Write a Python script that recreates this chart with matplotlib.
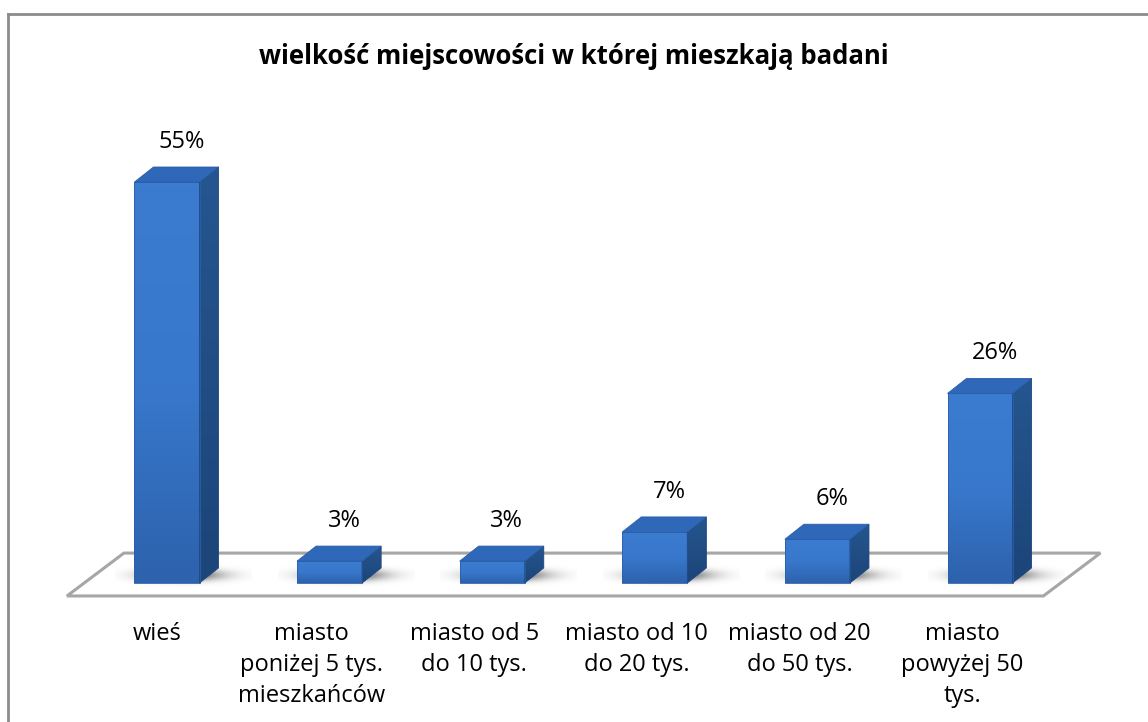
import numpy as np
import matplotlib.pyplot as plt
from matplotlib.patches import Polygon
from matplotlib.lines import Line2D
from matplotlib.colors import LinearSegmentedColormap

## 3D-looking column chart: size of place of residence ##

categories = ['wieś', 'miasto\nponiżej 5 tys.\nmieszkańców', 'miasto od 5\ndo 10 tys.',
              'miasto od 10\ndo 20 tys.', 'miasto od 20\ndo 50 tys.', 'miasto\npowyżej 50\ntys.']
values = [55, 3, 3, 7, 6, 26]
labels = ['55%', '3%', '3%', '7%', '6%', '26%']
title = 'wielkość miejscowości w której mieszkają badani'

plt.rcParams['font.family'] = ['Open Sans', 'DejaVu Sans']

fig = plt.figure(figsize=(11.48, 7.22), dpi=100)
ax = fig.add_axes([0, 0, 1, 1])
ax.set_xlim(-1.027, 6.033)
ax.set_ylim(-19.07, 79.97)
ax.axis('off')

half_w = 0.2     # half width of the front face
dx = 0.117       # depth offset in x
dy = 2.06        # depth offset in y

# floor
floor = Polygon([(-0.615, -1.78), (-0.265, 4.1), (5.74, 4.1), (5.39, -1.78)],
                closed=True, facecolor='white', edgecolor='#a6a6a6', lw=2.2, zorder=1)
ax.add_patch(floor)

front_cmap = LinearSegmentedColormap.from_list('front', ['#2d62ad', '#3878cc', '#3b7bd0'])
side_cmap = LinearSegmentedColormap.from_list('side', ['#1c4579', '#25568f'])

# soft shadow kernel
gx, gy = np.meshgrid(np.linspace(-1, 1, 80), np.linspace(-1, 1, 40))
shadow = np.zeros((40, 80, 4))
shadow[..., 3] = 0.7 * np.exp(-(gx**2 / 0.3 + gy**2 / 0.2))

for i, v in enumerate(values):
    x0, x1 = i - half_w, i + half_w
    ax.imshow(shadow, extent=(x0 - 0.12, x1 + dx + 0.2, -0.7, 2.8), aspect='auto',
              origin='lower', zorder=2, interpolation='bilinear')

    front = Polygon([(x0, 0), (x1, 0), (x1, v), (x0, v)], closed=True,
                    facecolor='none', edgecolor='#2b5fa8', lw=0.6, zorder=4)
    ax.add_patch(front)
    im = ax.imshow(np.linspace(0, 1, 100).reshape(-1, 1), cmap=front_cmap, aspect='auto',
                   extent=(x0, x1, 0, v), origin='lower', zorder=3)
    im.set_clip_path(front)

    side = Polygon([(x1, 0), (x1 + dx, dy), (x1 + dx, v + dy), (x1, v)], closed=True,
                   facecolor='none', edgecolor='#1d4780', lw=0.6, zorder=4)
    ax.add_patch(side)
    im2 = ax.imshow(np.linspace(0, 1, 100).reshape(-1, 1), cmap=side_cmap, aspect='auto',
                    extent=(x1, x1 + dx, 0, v + dy), origin='lower', zorder=3)
    im2.set_clip_path(side)

    top = Polygon([(x0, v), (x1, v), (x1 + dx, v + dy), (x0 + dx, v + dy)], closed=True,
                  facecolor='#2f68b8', edgecolor='#2a5ea6', lw=0.6, zorder=4)
    ax.add_patch(top)

    ax.text(i + 0.09, v + 5.5, labels[i], ha='center', va='center', fontsize=17,
            color='black', zorder=5)
    ax.text(i - 0.11 + (0.05 if i == 0 else 0), -5.4, categories[i], ha='center', va='top',
            fontsize=17, color='black', linespacing=1.38, zorder=5)

fig.text(0.5, 1 - 57/722, title, ha='center', va='center', fontsize=18.5, fontweight='bold')

# chart border (top and left, rest cropped)
fig.add_artist(Line2D([7.5/1148, 1], [1 - 13.5/722, 1 - 13.5/722], color='#8c8c8c', lw=2))
fig.add_artist(Line2D([7.5/1148, 7.5/1148], [0, 1 - 13.5/722], color='#8c8c8c', lw=2))

fig.savefig('out.png', dpi=100)
